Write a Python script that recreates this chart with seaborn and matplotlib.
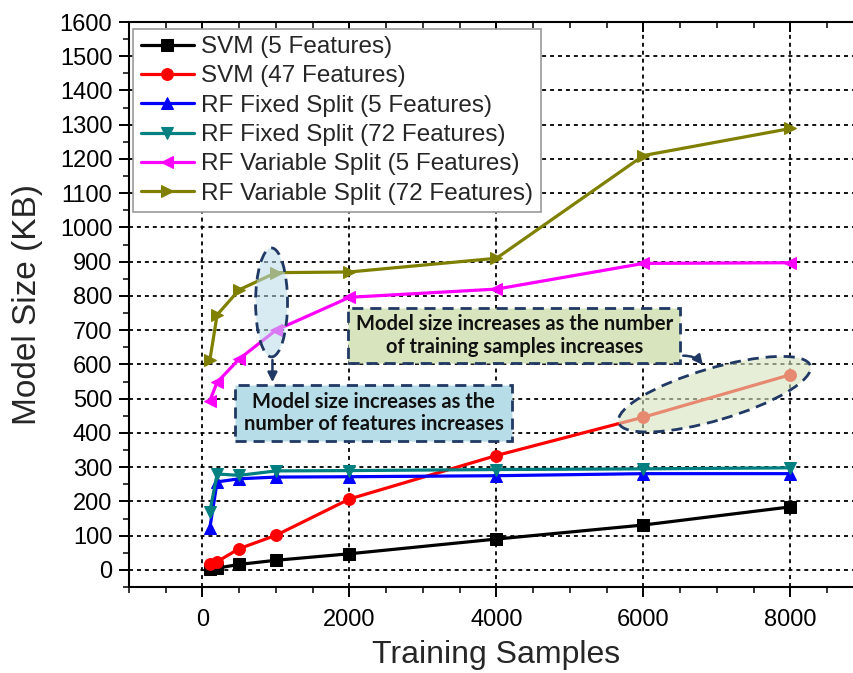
import numpy as np
import pandas as pd
import matplotlib
matplotlib.use("Agg")
import matplotlib.pyplot as plt
import matplotlib.transforms as mtransforms
from matplotlib.patches import Ellipse, Rectangle, FancyArrowPatch
import seaborn as sns

# ---------------- data ----------------
samples = [100, 200, 500, 1000, 2000, 4000, 6000, 8000]
svm_5 = [2, 5, 16, 28, 47, 90, 131, 184]
svm_47 = [18, 24, 62, 101, 207, 334, 446, 570]
rf_fixed_5 = [122, 257, 266, 271, 272, 275, 281, 281]
rf_fixed_72 = [170, 280, 276, 289, 290, 293, 295, 298]
rf_var_5 = [494, 548, 616, 700, 796, 820, 895, 897]
rf_var_72 = [612, 745, 818, 868, 870, 910, 1210, 1289]

series_names = ["SVM (5 Features)", "SVM (47 Features)",
                "RF Fixed Split (5 Features)", "RF Fixed Split (72 Features)",
                "RF Variable Split (5 Features)", "RF Variable Split (72 Features)"]
series_values = [svm_5, svm_47, rf_fixed_5, rf_fixed_72, rf_var_5, rf_var_72]
series_colors = ["#000000", "#ff0000", "#0000ff", "#008080", "#ff00ff", "#808000"]
series_markers = ["s", "o", "^", "v", "<", ">"]

x_label = "Training Samples"
y_label = "Model Size (KB)"
note_features = "Model size increases as the\nnumber of features increases"
note_samples = "Model size increases as the number\nof training samples increases"

# ---------------- style ----------------
sns.set_style("ticks")
plt.rcParams["font.family"] = ["Liberation Sans", "DejaVu Sans"]

fig = plt.figure(figsize=(8.54, 6.73), dpi=100)
ax = fig.add_axes([0.151, 0.1278, 0.8607, 0.8395])

for name, vals, col, mk in zip(series_names, series_values, series_colors, series_markers):
    df = pd.DataFrame({"x": samples, "y": vals})
    sns.lineplot(data=df, x="x", y="y", ax=ax, color=col, marker=mk,
                 markersize=8.5, markeredgecolor=col, markerfacecolor=col,
                 linewidth=2.3, label=name, zorder=3)

ax.set_xlim(-1000, 9000)
ax.set_ylim(-50, 1600)
ax.set_xticks(np.arange(0, 8001, 2000))
ax.set_xticks(np.arange(-1000, 9001, 500), minor=True)
ax.set_yticks(np.arange(0, 1601, 100))
ax.set_yticks(np.arange(-50, 1601, 50), minor=True)

ax.grid(True, which="major", color="black", linestyle=(0, (2.2, 2.2)), linewidth=1.3, zorder=0)
ax.set_axisbelow(True)

for side in ["left", "bottom", "top", "right"]:
    ax.spines[side].set_linewidth(1.5)
    ax.spines[side].set_color("black")

ax.tick_params(axis="both", which="major", length=7, width=1.4, direction="out",
               colors="black", labelsize=17, pad=5)
ax.tick_params(axis="both", which="minor", length=4, width=1.3, direction="out")
ax.tick_params(axis="x", which="both", top=True)
ax.tick_params(axis="x", which="major", pad=9)

# top ticks point inward
for t in ax.xaxis.get_major_ticks() + ax.xaxis.get_minor_ticks():
    t.tick2line.set_marker(3)

ax.set_xlabel(x_label, fontsize=23, labelpad=6)
ax.set_ylabel(y_label, fontsize=24, labelpad=12)

leg = ax.legend(loc="upper left", bbox_to_anchor=(0.006, 0.988), fontsize=17.5,
                frameon=True, fancybox=False, edgecolor="#999999", framealpha=1,
                handlelength=2.2, handletextpad=0.3, labelspacing=0.3,
                borderpad=0.3, borderaxespad=0.0)
leg.get_frame().set_linewidth(1.2)

navy = "#1f3864"
anno_font = ["Lato", "DejaVu Sans"]

# ellipse around the x=1000 points
ax.add_patch(Ellipse((940, 781), 435, 318, facecolor="#b9dcea", alpha=0.55,
                     edgecolor="none", zorder=4))
ax.add_patch(Ellipse((940, 781), 435, 318, facecolor="none", edgecolor=navy,
                     linestyle=(0, (4, 2.5)), linewidth=2.0, zorder=5))

# arrow down to blue box
ax.add_patch(FancyArrowPatch((952, 621), (952, 540), arrowstyle="-|>",
                             mutation_scale=14, color=navy, linewidth=1.8, zorder=6))

# blue box
ax.add_patch(Rectangle((449, 376), 4218 - 449, 539 - 376, facecolor="#b7dde8",
                       edgecolor=navy, linestyle=(0, (4, 2.5)), linewidth=2.0, zorder=6))
ax.text(2330, 458, note_features, ha="center", va="center", fontsize=14.5,
        fontweight="bold", family=anno_font, color="#111111", linespacing=1.15, zorder=7)

# green box
ax.add_patch(Rectangle((1986, 603), 6503 - 1986, 764 - 603, facecolor="#d7e4bd",
                       edgecolor=navy, linestyle=(0, (4, 2.5)), linewidth=2.0, zorder=6))
ax.text(4245, 685, note_samples, ha="center", va="center", fontsize=14.5,
        fontweight="bold", family=anno_font, color="#111111", linespacing=1.15, zorder=7)

# rotated ellipse around the red 6000-8000 points (pixel units)
px = mtransforms.ScaledTranslation(6966, 513, ax.transData)
ell_tr = mtransforms.Affine2D() + px
ax.add_patch(Ellipse((0, 0), 200, 52, angle=16.5, facecolor="#d7e4bd", alpha=0.6,
                     edgecolor="none", transform=ell_tr, zorder=4))
ax.add_patch(Ellipse((0, 0), 200, 52, angle=16.5, facecolor="none", edgecolor=navy,
                     linestyle=(0, (4, 2.5)), linewidth=2.0, transform=ell_tr, zorder=5))

# small arrow from green box to ellipse
ax.add_patch(FancyArrowPatch((6503, 625), (6830, 592), arrowstyle="-|>",
                             connectionstyle="arc3,rad=-0.3", mutation_scale=14,
                             color=navy, linewidth=1.8, zorder=6))

fig.savefig("out.png", dpi=100)
